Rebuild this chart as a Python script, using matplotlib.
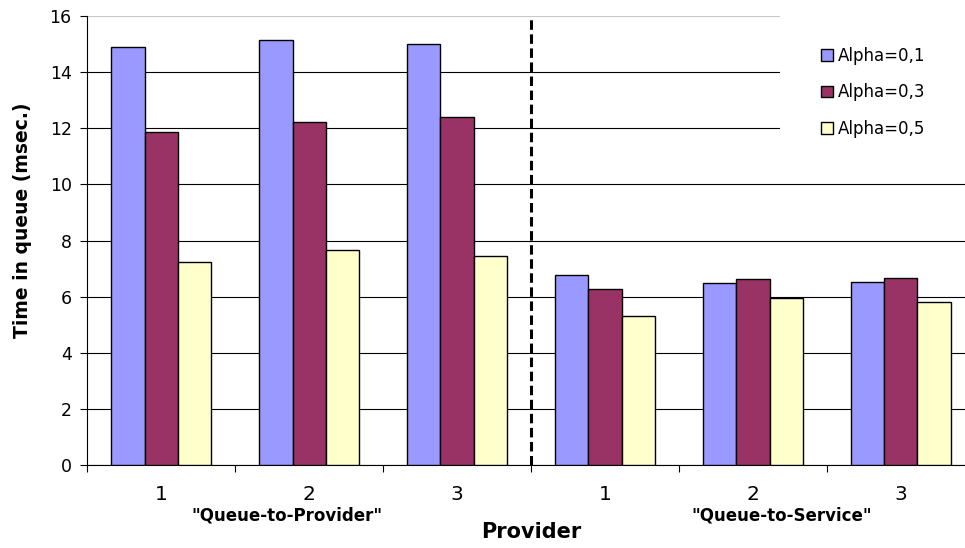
"""
Tiempo en cola por proveedor para tres valores de alpha,
comparando las politicas "Queue-to-Provider" y "Queue-to-Service".
"""

import numpy as np
import matplotlib
matplotlib.use("Agg")
import matplotlib.pyplot as plt
from matplotlib.transforms import blended_transform_factory

# Datos
proveedores = ["1", "2", "3", "1", "2", "3"]
grupos = ['"Queue-to-Provider"', '"Queue-to-Service"']
series = ["Alpha=0,1", "Alpha=0,3", "Alpha=0,5"]
alpha_01 = [14.91, 15.13, 15.00, 6.77, 6.50, 6.51]
alpha_03 = [11.88, 12.21, 12.40, 6.26, 6.64, 6.65]
alpha_05 = [7.22, 7.66, 7.46, 5.31, 5.96, 5.82]

colores = ["#9999FF", "#993366", "#FFFFCC"]

plt.rcParams["font.family"] = ["DejaVu Sans"]

fig = plt.figure(figsize=(9.65, 5.48), dpi=100)
ax = fig.add_axes([0.09016, 0.15146, 0.92020, 0.81934])

x = np.arange(len(proveedores))
ancho = 0.223
for i, (valores, color, nombre) in enumerate(zip([alpha_01, alpha_03, alpha_05], colores, series)):
    ax.bar(x + (i - 1) * ancho, valores, width=ancho, color=color,
           edgecolor="black", linewidth=1.0, label=nombre, zorder=3)

# separacion entre las dos politicas
ax.axvline(2.5, color="black", linewidth=2.2, linestyle=(0, (3.1, 1.5)), zorder=4)

ax.set_xlim(-0.5, len(proveedores) - 0.5)
ax.set_ylim(0, 16)
ax.set_yticks(np.arange(0, 17, 2))
ax.yaxis.grid(True, color="black", linewidth=0.8, zorder=0)
ax.set_axisbelow(True)
# la linea superior (16) casi no se ve
ax.get_ygridlines()[-1].set_color("#c8c8c8")

ax.set_xticks(np.arange(-0.5, len(proveedores), 1.0))
ax.set_xticklabels([])
ax.set_xticks(x, minor=True)
ax.set_xticklabels(proveedores, minor=True)
ax.tick_params(axis="x", which="major", direction="out", length=5, width=0.8)
ax.tick_params(axis="x", which="minor", length=0, pad=14.5, labelsize=14.5)
ax.tick_params(axis="y", direction="out", length=5, width=0.8, pad=6, labelsize=12.5)

for lado in ["top", "right"]:
    ax.spines[lado].set_visible(False)
for lado in ["left", "bottom"]:
    ax.spines[lado].set_linewidth(0.8)

trans = blended_transform_factory(ax.transData, ax.transAxes)
ax.text(0.851, -0.1225, grupos[0], transform=trans, ha="center", va="baseline",
        fontsize=12, fontweight="bold")
ax.text(4.196, -0.1225, grupos[1], transform=trans, ha="center", va="baseline",
        fontsize=12, fontweight="bold")
ax.text(0.5, -0.1626, "Provider", transform=ax.transAxes, ha="center", va="baseline",
        fontsize=15, fontweight="bold")

fig.text(23 / 965, 1 - 220 / 548, "Time in queue (msec.)", rotation=90,
         ha="center", va="center", fontsize=13.5, fontweight="bold")

leg = ax.legend(loc="upper left", bbox_to_anchor=(780 / 965, 1 - 6 / 548),
                bbox_transform=fig.transFigure, frameon=True, fancybox=False,
                fontsize=12, handlelength=0.75, handleheight=0.7,
                handletextpad=0.3, labelspacing=1.1, borderpad=2.45,
                borderaxespad=0)
leg.get_frame().set_facecolor("white")
leg.get_frame().set_edgecolor("none")
leg.get_frame().set_alpha(1.0)
for h in leg.legend_handles:
    h.set_linewidth(1.0)

fig.savefig("out.png", dpi=100)
plt.close(fig)
